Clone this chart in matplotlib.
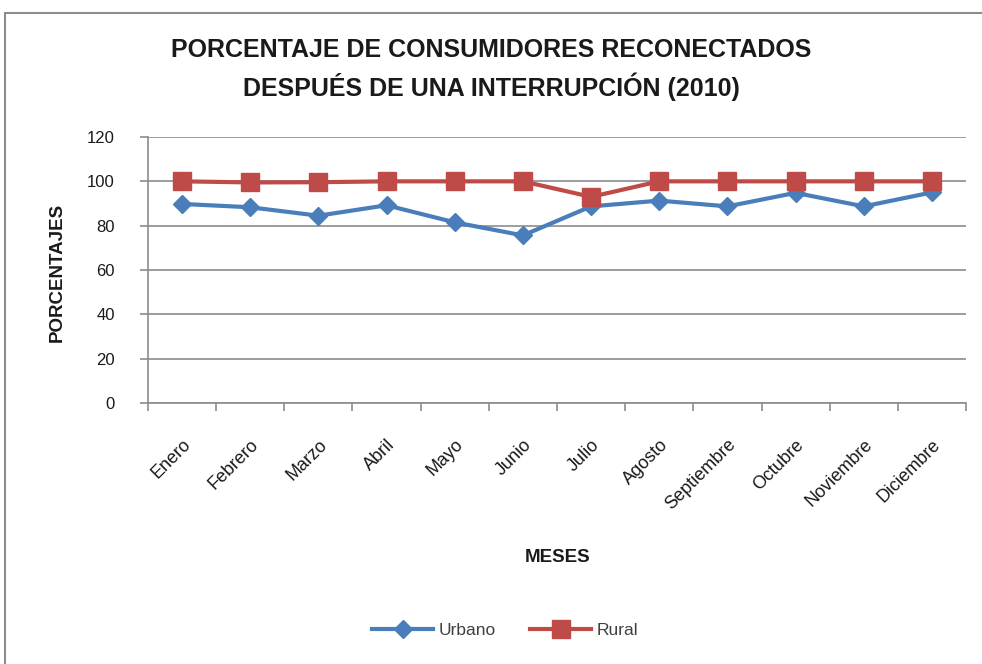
import matplotlib
matplotlib.use("Agg")
import matplotlib.pyplot as plt
from matplotlib.patches import Rectangle
from matplotlib import font_manager as fm

months = ["Enero", "Febrero", "Marzo", "Abril", "Mayo", "Junio", "Julio",
          "Agosto", "Septiembre", "Octubre", "Noviembre", "Diciembre"]
urbano = [89.8, 88.3, 84.5, 89.2, 81.5, 75.6, 88.7, 91.3, 88.7, 94.8, 88.7, 95.0]
rural = [100.0, 99.5, 99.6, 100.0, 100.0, 100.0, 93.0, 100.0, 100.0, 100.0, 100.0, 100.0]
yticks = [0, 20, 40, 60, 80, 100, 120]

names = {f.name for f in fm.fontManager.ttflist}
narrow = "Liberation Sans Narrow" if "Liberation Sans Narrow" in names else "Liberation Sans"

fig = plt.figure(figsize=(9.82, 6.64), dpi=100)
fig.patches.append(Rectangle((5/982, -0.1), 1.2, 1 - 13/664 + 0.1, transform=fig.transFigure,
                             fill=False, edgecolor="#8c8c8c", linewidth=1.5))

ax = fig.add_axes([148/982, 1 - 403/664, 818/982, 266/664])
x = list(range(len(months)))
ax.plot(x, urbano, color="#4a7ebb", linewidth=3, marker="D", markersize=9, label="Urbano", zorder=3)
ax.plot(x, rural, color="#be4b48", linewidth=3, marker="s", markersize=13, label="Rural", zorder=3)

ax.set_xlim(-0.5, len(months) - 0.5)
ax.set_ylim(0, 120)
ax.set_yticks(yticks)
ax.yaxis.grid(True, color="#8c8c8c", linewidth=1.2)
ax.set_axisbelow(True)
for s in ["top", "right"]:
    ax.spines[s].set_visible(False)
for s in ["left", "bottom"]:
    ax.spines[s].set_color("#8c8c8c")
    ax.spines[s].set_linewidth(1.2)

ax.set_xticks([i - 0.5 for i in range(len(months) + 1)])
ax.set_xticklabels([])
ax.set_xticks(x, minor=True)
ax.set_xticklabels(months, minor=True, rotation=45, ha="right", rotation_mode="anchor",
                   fontsize=13, family="Liberation Sans", color="#1a1a1a")
ax.tick_params(axis="x", which="minor", length=0, pad=24)
ax.tick_params(axis="x", which="major", length=6, color="#8c8c8c", width=1.2)
ax.tick_params(axis="y", length=6, color="#8c8c8c", width=1.2, pad=18,
               labelsize=12, labelcolor="#1a1a1a")
for t in ax.get_yticklabels():
    t.set_family("Liberation Sans")

fig.text(0.5, 1 - 50/664, "PORCENTAJE DE CONSUMIDORES RECONECTADOS", ha="center", va="center",
         fontsize=18, fontweight="bold", family=narrow, color="#1a1a1a")
fig.text(0.5, 1 - 87/664, "DESPUÉS DE UNA INTERRUPCIÓN (2010)", ha="center", va="center",
         fontsize=18, fontweight="bold", family=narrow, color="#1a1a1a")
fig.text(57/982, 1 - 272/664, "PORCENTAJES", rotation=90, ha="center", va="center",
         fontsize=13.5, fontweight="bold", family=narrow, color="#1a1a1a")
fig.text(558/982, 1 - 557/664, "MESES", ha="center", va="center",
         fontsize=13.5, fontweight="bold", family=narrow, color="#1a1a1a")

leg = fig.legend(loc="center", bbox_to_anchor=(505/982, 1 - 630/664), ncol=2, frameon=False,
                 prop={"family": "Liberation Sans", "size": 12.5}, handlelength=3.5,
                 columnspacing=2.0, handletextpad=0.3)
for t in leg.get_texts():
    t.set_color("#404040")

fig.savefig("out.png", dpi=100)
